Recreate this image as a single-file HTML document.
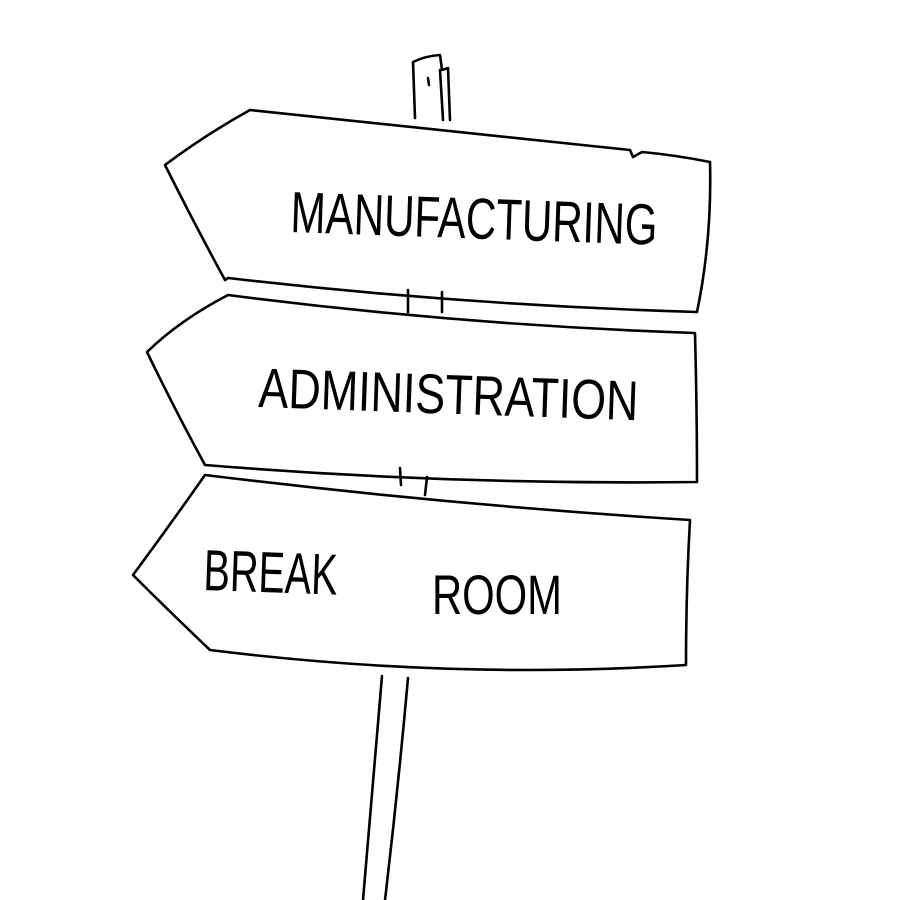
<!DOCTYPE html>
<html><head><meta charset="utf-8"><style>
html,body{margin:0;padding:0;background:#fff;width:900px;height:900px;overflow:hidden}
svg{display:block}
text{font-family:"Liberation Sans",sans-serif;font-weight:normal;fill:#000}
</style></head><body>
<svg width="900" height="900" viewBox="0 0 900 900" xmlns="http://www.w3.org/2000/svg">
<g fill="none" stroke="#000" stroke-width="2.6" stroke-linecap="round" stroke-linejoin="round">
<path d="M415 118 L413 62 Q425 56 440 55 L442 70 L448 68 L450 120"/>
<path d="M440 70 L443 120"/>
<path d="M428 78 L429 85"/>
<path d="M225 280 Q195 225 165 165 Q205 135 250 110 Q440 130 630 150 L633 157 L642 152 Q675 155 710 162 Q712 240 697 312 Q460 305 228 278 Z"/>
<path d="M408 290 L408 312 M442 292 L442 312"/>
<path d="M205 465 Q175 410 147 352 Q180 320 228 295 Q460 325 695 333 Q697 410 697 482 Q450 485 205 465 Z"/>
<path d="M400 468 L401 485 M427 477 L425 495"/>
<path d="M210 650 Q170 612 133 575 Q170 525 205 475 Q450 505 690 520 Q686 590 686 665 Q450 680 210 650 Z"/>
<path d="M382 676 Q372 790 363 900 M408 678 Q398 790 385 900"/>
</g>
<text x="290" y="232" font-size="58" textLength="367" lengthAdjust="spacingAndGlyphs" transform="rotate(2 290 232)">MANUFACTURING</text>
<text x="258" y="407" font-size="56" textLength="380" lengthAdjust="spacingAndGlyphs" transform="rotate(2 258 407)">ADMINISTRATION</text>
<text x="203" y="590" font-size="58" textLength="134" lengthAdjust="spacingAndGlyphs" transform="rotate(2 203 590)">BREAK</text>
<text x="432" y="614" font-size="56" textLength="130" lengthAdjust="spacingAndGlyphs">ROOM</text>
</svg>
</body></html>
